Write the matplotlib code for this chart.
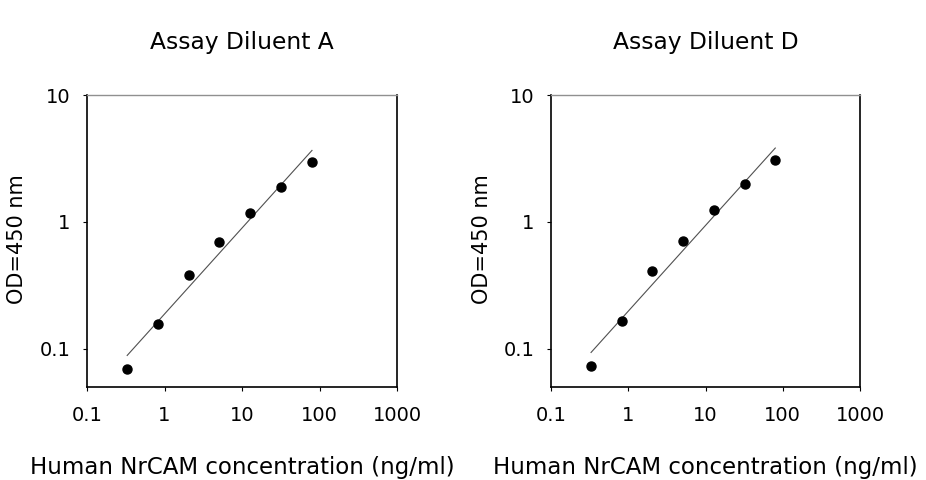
import numpy as np
import matplotlib
matplotlib.use("Agg")
import matplotlib.pyplot as plt

plt.rcParams['font.family'] = ['DejaVu Sans']

# Data
conc = [0.33, 0.82, 2.05, 5.1, 12.8, 32, 80]
od_A = [0.069, 0.158, 0.385, 0.69, 1.18, 1.89, 2.97]
od_D = [0.073, 0.167, 0.409, 0.705, 1.236, 2.0, 3.1]
titles = ["Assay Diluent A", "Assay Diluent D"]
x_ticks = [0.1, 1, 10, 100, 1000]
x_ticklabels = ["0.1", "1", "10", "100", "1000"]
y_ticks = [0.1, 1, 10]
y_ticklabels = ["0.1", "1", "10"]
xlabel = "Human NrCAM concentration (ng/ml)"
ylabel = "OD=450 nm"

fig = plt.figure(figsize=(9.26, 4.8), dpi=100)
rects = [[87/926, 93/480, 310/926, 292/480],
         [551/926, 93/480, 309/926, 292/480]]

for rect, od, title in zip(rects, [od_A, od_D], titles):
    ax = fig.add_axes(rect)
    ax.set_xscale('log')
    ax.set_yscale('log')
    ax.set_xlim(0.1, 1000)
    ax.set_ylim(0.05, 10)
    x = np.array(conc)
    y = np.array(od)
    slope, icpt = np.polyfit(np.log10(x), np.log10(y), 1)
    xf = np.array([x.min(), x.max()])
    yf = 10 ** (icpt + slope * np.log10(xf))
    ax.plot(xf, yf, color='#505050', lw=0.8, zorder=2)
    ax.plot(x, y, 'o', color='black', markersize=6.5, zorder=3)
    ax.set_xticks(x_ticks)
    ax.set_xticklabels(x_ticklabels)
    ax.set_yticks(y_ticks)
    ax.set_yticklabels(y_ticklabels)
    ax.minorticks_off()
    ax.tick_params(axis='x', direction='out', length=3, width=0.8, pad=11, labelsize=14)
    ax.tick_params(axis='y', direction='out', length=3, width=0.8, pad=9, labelsize=14)
    for s in ['left', 'bottom', 'right']:
        ax.spines[s].set_color('black')
        ax.spines[s].set_linewidth(1.2)
    ax.spines['top'].set_color('#909090')
    ax.spines['top'].set_linewidth(1.0)
    ax.set_title(title, fontsize=16.8, pad=33)
    ax.set_xlabel(xlabel, fontsize=16.5)
    ax.xaxis.set_label_coords(0.5, -0.235)
    ax.set_ylabel(ylabel, fontsize=15)
    ax.yaxis.set_label_coords(-0.192, 0.505)

fig.savefig("out.png", dpi=100)
